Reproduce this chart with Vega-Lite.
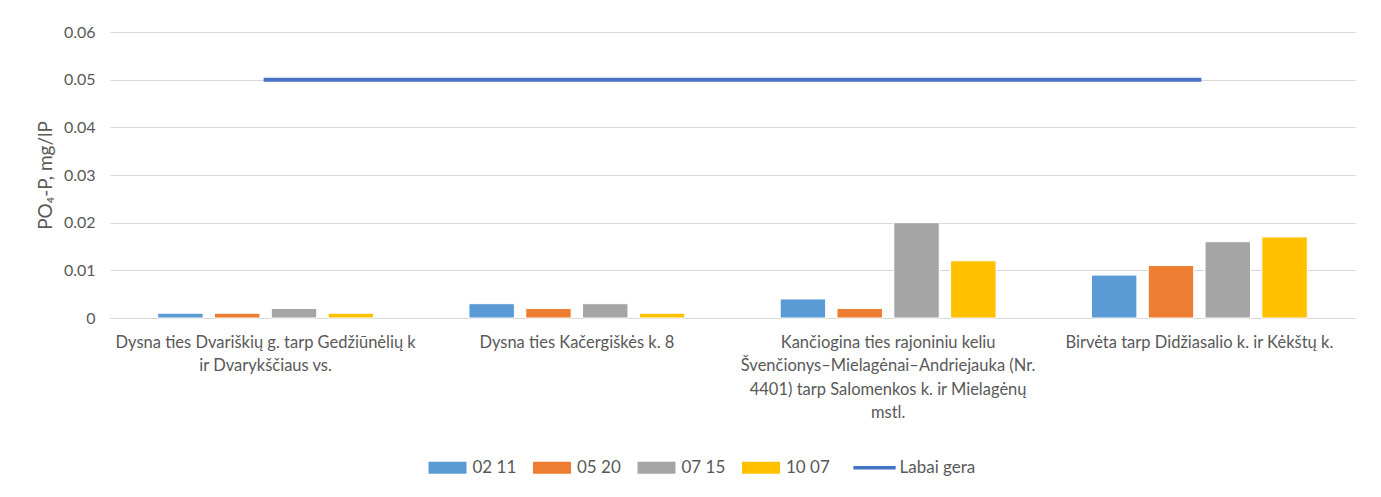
{
  "$schema": "https://vega.github.io/schema/vega-lite/v6.json",
  "width": 1245,
  "height": 286,
  "autosize": {"type": "none"},
  "padding": {"left": 110, "top": 32, "right": 26, "bottom": 179},
  "background": "white",
  "config": {"font": "Lato", "view": {"stroke": null}},
  "datasets": {
    "bars": [
      {"site": "Dysna ties Dvariškių g. tarp Gedžiūnėlių k ir Dvarykščiaus vs.", "series": "02 11", "value": 0.001},
      {"site": "Dysna ties Dvariškių g. tarp Gedžiūnėlių k ir Dvarykščiaus vs.", "series": "05 20", "value": 0.001},
      {"site": "Dysna ties Dvariškių g. tarp Gedžiūnėlių k ir Dvarykščiaus vs.", "series": "07 15", "value": 0.002},
      {"site": "Dysna ties Dvariškių g. tarp Gedžiūnėlių k ir Dvarykščiaus vs.", "series": "10 07", "value": 0.001},
      {"site": "Dysna ties Kačergiškės k. 8", "series": "02 11", "value": 0.003},
      {"site": "Dysna ties Kačergiškės k. 8", "series": "05 20", "value": 0.002},
      {"site": "Dysna ties Kačergiškės k. 8", "series": "07 15", "value": 0.003},
      {"site": "Dysna ties Kačergiškės k. 8", "series": "10 07", "value": 0.001},
      {"site": "Kančiogina ties rajoniniu keliu Švenčionys–Mielagėnai–Andriejauka (Nr. 4401) tarp Salomenkos k. ir Mielagėnų mstl.", "series": "02 11", "value": 0.004},
      {"site": "Kančiogina ties rajoniniu keliu Švenčionys–Mielagėnai–Andriejauka (Nr. 4401) tarp Salomenkos k. ir Mielagėnų mstl.", "series": "05 20", "value": 0.002},
      {"site": "Kančiogina ties rajoniniu keliu Švenčionys–Mielagėnai–Andriejauka (Nr. 4401) tarp Salomenkos k. ir Mielagėnų mstl.", "series": "07 15", "value": 0.02},
      {"site": "Kančiogina ties rajoniniu keliu Švenčionys–Mielagėnai–Andriejauka (Nr. 4401) tarp Salomenkos k. ir Mielagėnų mstl.", "series": "10 07", "value": 0.012},
      {"site": "Birvėta tarp Didžiasalio k. ir Kėkštų k.", "series": "02 11", "value": 0.009},
      {"site": "Birvėta tarp Didžiasalio k. ir Kėkštų k.", "series": "05 20", "value": 0.011},
      {"site": "Birvėta tarp Didžiasalio k. ir Kėkštų k.", "series": "07 15", "value": 0.016},
      {"site": "Birvėta tarp Didžiasalio k. ir Kėkštų k.", "series": "10 07", "value": 0.017}
    ],
    "line": [
      {"site": "Dysna ties Dvariškių g. tarp Gedžiūnėlių k ir Dvarykščiaus vs.", "series": "Labai gera", "value": 0.05},
      {"site": "Dysna ties Kačergiškės k. 8", "series": "Labai gera", "value": 0.05},
      {"site": "Kančiogina ties rajoniniu keliu Švenčionys–Mielagėnai–Andriejauka (Nr. 4401) tarp Salomenkos k. ir Mielagėnų mstl.", "series": "Labai gera", "value": 0.05},
      {"site": "Birvėta tarp Didžiasalio k. ir Kėkštų k.", "series": "Labai gera", "value": 0.05}
    ]
  },
  "encoding": {
    "x": {
      "field": "site",
      "type": "nominal",
      "sort": null,
      "scale": {"paddingInner": 0.27, "paddingOuter": 0.135},
      "axis": {
        "title": null,
        "labelAngle": 0,
        "labelFontSize": 16.5,
        "labelColor": "#595959",
        "labelPadding": 16,
        "labelLineHeight": 23.5,
        "labelLimit": 0,
        "ticks": false,
        "domainColor": "#d9d9d9",
        "domainWidth": 1,
        "labelExpr": "datum.value === 'Dysna ties Dvariškių g. tarp Gedžiūnėlių k ir Dvarykščiaus vs.' ? ['Dysna ties Dvariškių g. tarp Gedžiūnėlių k','ir Dvarykščiaus vs.'] : datum.value === 'Kančiogina ties rajoniniu keliu Švenčionys–Mielagėnai–Andriejauka (Nr. 4401) tarp Salomenkos k. ir Mielagėnų mstl.' ? ['Kančiogina ties rajoniniu keliu','Švenčionys–Mielagėnai–Andriejauka (Nr.','4401) tarp Salomenkos k. ir Mielagėnų','mstl.'] : datum.value"
      }
    },
    "y": {
      "field": "value",
      "type": "quantitative",
      "scale": {"domain": [0, 0.06], "nice": false},
      "axis": {
        "title": "PO₄-P, mg/lP",
        "titleFontSize": 19,
        "titleFontWeight": "normal",
        "titleColor": "#595959",
        "titlePadding": 8,
        "labelFontSize": 16,
        "labelColor": "#595959",
        "labelPadding": 15,
        "values": [0, 0.01, 0.02, 0.03, 0.04, 0.05, 0.06],
        "format": "~g",
        "gridColor": "#d9d9d9",
        "gridWidth": 1,
        "domain": false,
        "ticks": false
      }
    },
    "color": {
      "field": "series",
      "type": "nominal",
      "scale": {
        "domain": ["02 11", "05 20", "07 15", "10 07", "Labai gera"],
        "range": ["#5B9BD5", "#ED7D31", "#A5A5A5", "#FFC000", "#4472C4"]
      },
      "legend": {
        "orient": "none",
        "legendX": 329,
        "legendY": 427,
        "direction": "horizontal",
        "title": null,
        "labelFontSize": 17,
        "labelColor": "#595959",
        "symbolSize": 1089,
        "columnPadding": 15.5,
        "labelOffset": 16.5,
        "encode": {
          "symbols": {
            "update": {
              "shape": {"signal": "datum.value === 'Labai gera' ? 'M-1.28,0H1.28' : 'M-1.15,-0.36H1.15V0.36H-1.15Z'"},
              "fill": {"scale": "color", "field": "value"},
              "stroke": {"scale": "color", "field": "value"},
              "strokeWidth": {"signal": "datum.value === 'Labai gera' ? 3.5 : 0"},
              "opacity": {"value": 1}
            }
          }
        }
      }
    }
  },
  "layer": [
    {
      "data": {"name": "bars"},
      "mark": {"type": "bar", "stroke": "white", "strokeWidth": 1},
      "encoding": {
        "xOffset": {"field": "series", "type": "nominal", "sort": null, "scale": {"paddingInner": 0.2, "paddingOuter": 0.1}}
      }
    },
    {
      "data": {"name": "line"},
      "mark": {"type": "line", "strokeWidth": 4, "strokeCap": "square"},
      "encoding": {}
    }
  ]
}
